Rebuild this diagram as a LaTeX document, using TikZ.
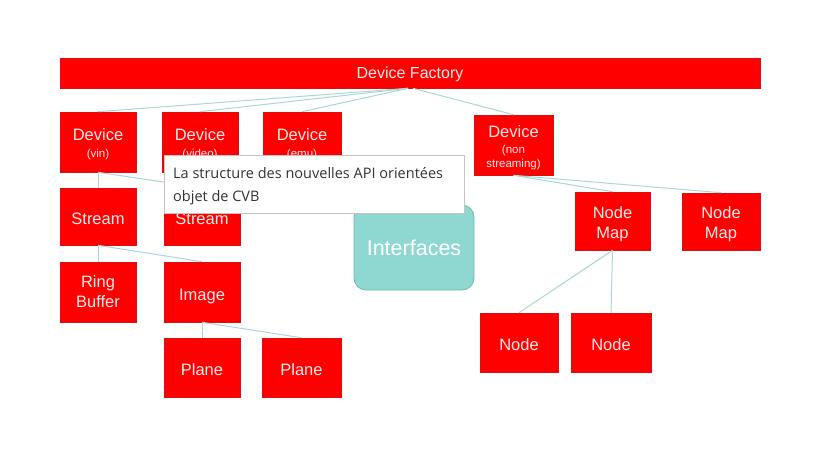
\documentclass[tikz,border=0pt]{standalone}
\usepackage{fontspec}
\setmainfont{Liberation Sans}
\newfontfamily\tipfont{Open Sans}
\definecolor{boxred}{HTML}{FF0000}
\definecolor{boxedge}{HTML}{D81010}
\definecolor{boxtext}{HTML}{FCEAEA}
\definecolor{linkc}{HTML}{A8D8D6}
\definecolor{intfill}{HTML}{8FD7D1}
\definecolor{intedge}{HTML}{70B8B2}
\definecolor{tipedge}{HTML}{C4C4C4}
\definecolor{tiptext}{HTML}{333333}
\newcommand\dn[2][4pt]{\raisebox{-#1}[\height][\depth]{\begin{tabular}{@{}c@{}}#2\end{tabular}}}
\newcommand\sm{\fontsize{11.5}{13}\selectfont}
\begin{document}
\begin{tikzpicture}[x=1pt,y=-1pt,
  redbox/.style={draw=boxedge,line width=0.6pt,fill=boxred,text=boxtext,align=center,inner sep=0pt,
     font=\fontsize{16.5}{20}\selectfont},
  link/.style={draw=linkc,line width=1pt}]
\useasboundingbox (0,0) rectangle (824,464);
\fill[white] (0,0) rectangle (824,464);
% nodes
\node[redbox,minimum width=700pt,minimum height=30pt,font=\fontsize{16}{19}\selectfont] (fac) at (410,73) {\dn[2pt]{Device Factory}};
\node[redbox,minimum width=76pt,minimum height=60pt] (dvin) at (98,142) {\dn[3pt]{Device\\[-3pt]\sm (vin)}};
\node[redbox,minimum width=76pt,minimum height=60pt] (dvid) at (200,142) {\dn[3pt]{Device\\[-3pt]\sm (video)}};
\node[redbox,minimum width=78pt,minimum height=60pt] (demu) at (302,142) {\dn[3pt]{Device\\[-3pt]\sm (emu)}};
\node[redbox,minimum width=79pt,minimum height=60pt] (dns) at (513.5,145) {\dn[3.5pt]{Device\\[-4pt]\sm (non\\[-6pt]\sm streaming)}};
\node[redbox,minimum width=76pt,minimum height=57pt] (s1) at (98,216.5) {\dn{Stream}};
\node[redbox,minimum width=76pt,minimum height=57pt] (s2) at (202,216.5) {\dn{Stream}};
\node[redbox,minimum width=76pt,minimum height=60pt] (rb) at (98,292) {\dn[1pt]{Ring\\Buffer}};
\node[redbox,minimum width=76pt,minimum height=60pt] (img) at (202,292) {\dn{Image}};
\node[redbox,minimum width=76pt,minimum height=59pt] (p1) at (202,367.5) {\dn{Plane}};
\node[redbox,minimum width=79pt,minimum height=59pt] (p2) at (301.5,367.5) {\dn{Plane}};
\node[redbox,minimum width=75pt,minimum height=58pt] (nm1) at (612.5,221) {\dn[3pt]{Node\\Map}};
\node[redbox,minimum width=78pt,minimum height=57pt] (nm2) at (721,221.5) {\dn[3pt]{Node\\Map}};
\node[redbox,minimum width=78pt,minimum height=59pt] (n1) at (519,342.5) {\dn{Node}};
\node[redbox,minimum width=80pt,minimum height=59pt] (n2) at (611,342.5) {\dn{Node}};
\node[draw=intedge,line width=0.8pt,fill=intfill,rounded corners=12pt,minimum width=120pt,minimum height=85pt,
  text=white,font=\fontsize{21.5}{24}\selectfont] (intf) at (414,247.5) {Interfaces};
% connectors
\coordinate (fo) at ([xshift=-2pt]fac.south);
\draw[link] (fo) -- (dvin.north);
\draw[link] (fo) -- (dvid.north);
\draw[link] (fo) -- (demu.north);
\draw[link] ([xshift=3pt]fac.south) -- (dns.north);
\draw[link] (dvin.south) -- (s1.north);
\draw[link] (dvin.south) -- (s2.north);
\draw[link] (s1.south) -- (rb.north);
\draw[link] (s1.south) -- (img.north);
\draw[link] (img.south) -- (p1.north);
\draw[link] (img.south) -- (p2.north);
\draw[link] (dns.south) -- (nm1.north);
\draw[link] (dns.south) -- (nm2.north);
\draw[link] (nm1.south) -- (n1.north);
\draw[link] (nm1.south) -- (n2.north);
% tooltip
\node[draw=tipedge,line width=0.8pt,fill=white,minimum width=300pt,minimum height=58pt,inner sep=0pt] (tip) at (314,184) {};
\node[anchor=north west,text=tiptext,align=left,inner sep=0pt,font=\tipfont\fontsize{14.5}{23.5}\selectfont] (tiptxt) at (173,167)
  {La structure des nouvelles API orientées\\objet de CVB};
\end{tikzpicture}
\end{document}
